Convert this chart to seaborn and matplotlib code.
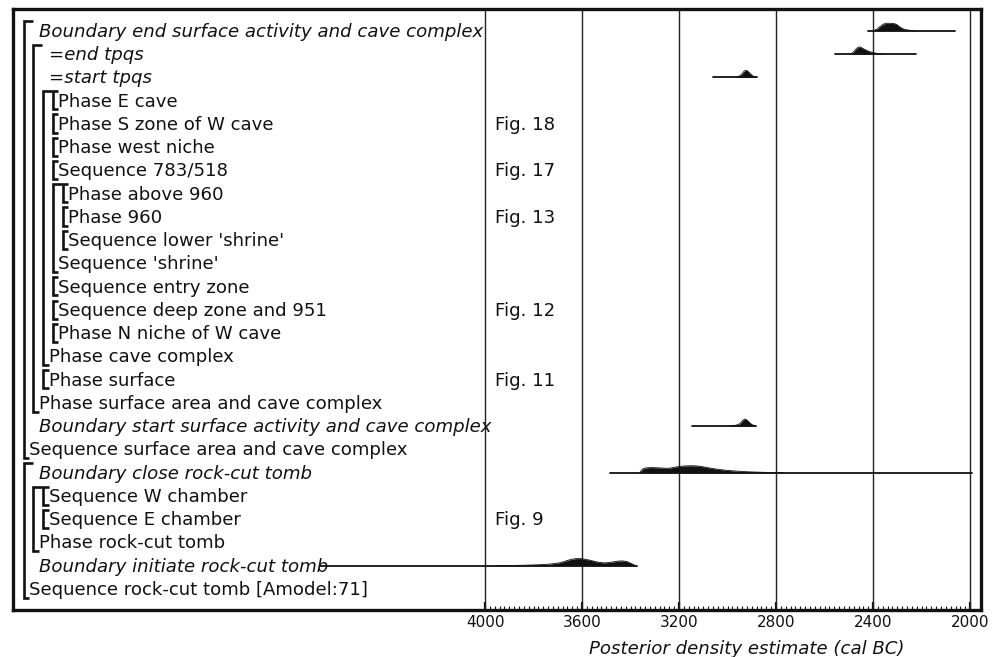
import numpy as np
import pandas as pd
import matplotlib
matplotlib.use("Agg")
import matplotlib.pyplot as plt
from matplotlib.ticker import FixedLocator
from matplotlib.transforms import blended_transform_factory
import seaborn as sns

# ---- model rows (top to bottom) ----
labels = [
    "Boundary end surface activity and cave complex",
    "=end tpqs",
    "=start tpqs",
    "Phase E cave",
    "Phase S zone of W cave",
    "Phase west niche",
    "Sequence 783/518",
    "Phase above 960",
    "Phase 960",
    "Sequence lower 'shrine'",
    "Sequence 'shrine'",
    "Sequence entry zone",
    "Sequence deep zone and 951",
    "Phase N niche of W cave",
    "Phase cave complex",
    "Phase surface",
    "Phase surface area and cave complex",
    "Boundary start surface activity and cave complex",
    "Sequence surface area and cave complex",
    "Boundary close rock-cut tomb",
    "Sequence W chamber",
    "Sequence E chamber",
    "Phase rock-cut tomb",
    "Boundary initiate rock-cut tomb",
    "Sequence rock-cut tomb [Amodel:71]",
]
italic_rows = [0, 1, 2, 17, 19, 23]
depth = [1, 2, 2, 3, 3, 3, 3, 4, 4, 4, 3, 3, 3, 3, 2, 2, 1, 1, 0, 1, 2, 2, 1, 1, 0]

# nesting brackets: (first row, last row, level)
groups = [(0, 18, 0), (1, 16, 1), (3, 14, 2), (3, 3, 3), (4, 4, 3), (5, 5, 3),
          (6, 6, 3), (7, 10, 3), (7, 7, 4), (8, 8, 4), (9, 9, 4), (11, 11, 3),
          (12, 12, 3), (13, 13, 3), (15, 15, 2), (19, 24, 0), (20, 22, 1),
          (20, 20, 2), (21, 21, 2)]

fig_ref_rows = [4, 6, 8, 12, 15, 21]
fig_ref_text = ["Fig. 18", "Fig. 17", "Fig. 13", "Fig. 12", "Fig. 11", "Fig. 9"]

# ---- prior ranges (cal BC) ----
range_rows = [0, 1, 2, 17, 19, 23]
range_start = [2422, 2558, 3061, 3148, 3485, 4680]
range_end = [2062, 2221, 2880, 2884, 1990, 3375]

# ---- posterior densities (cal BC, relative height) ----
end_surface_years = [2398, 2385, 2372, 2358, 2345, 2330, 2315, 2303, 2292, 2280, 2265, 2250, 2235, 2220]
end_surface_dens = [0, 0.2, 0.55, 0.88, 1.0, 1.0, 0.97, 0.85, 0.55, 0.3, 0.14, 0.06, 0.02, 0]

end_tpqs_years = [2490, 2480, 2468, 2458, 2450, 2440, 2428, 2415, 2400, 2385, 2370, 2355]
end_tpqs_dens = [0, 0.3, 0.75, 0.95, 0.9, 0.7, 0.5, 0.32, 0.18, 0.08, 0.03, 0]

start_tpqs_years = [2968, 2955, 2943, 2932, 2924, 2916, 2906, 2896, 2888, 2880]
start_tpqs_dens = [0, 0.08, 0.35, 0.8, 0.95, 0.8, 0.45, 0.18, 0.05, 0]

start_surface_years = [2992, 2978, 2962, 2948, 2938, 2930, 2921, 2910, 2900, 2890, 2884]
start_surface_dens = [0, 0.06, 0.15, 0.35, 0.75, 0.95, 0.85, 0.5, 0.22, 0.08, 0]

close_tomb_years = [3362, 3352, 3340, 3320, 3295, 3270, 3250, 3235, 3210, 3180, 3150, 3125,
                    3100, 3070, 3040, 3000, 2960, 2920, 2870, 2820, 2770]
close_tomb_dens = [0, 0.45, 0.62, 0.68, 0.66, 0.62, 0.58, 0.62, 0.78, 0.9, 0.93, 0.9,
                   0.78, 0.6, 0.45, 0.3, 0.2, 0.12, 0.06, 0.02, 0]

initiate_tomb_years = [3960, 3900, 3840, 3780, 3730, 3690, 3665, 3645, 3625, 3605, 3585, 3565,
                       3545, 3525, 3508, 3490, 3470, 3450, 3432, 3415, 3400, 3388, 3378]
initiate_tomb_dens = [0, 0.02, 0.06, 0.12, 0.22, 0.4, 0.65, 0.85, 0.95, 0.95, 0.85, 0.72,
                      0.55, 0.42, 0.38, 0.42, 0.52, 0.62, 0.64, 0.55, 0.35, 0.15, 0]

densities = [
    (0, end_surface_years, end_surface_dens),
    (1, end_tpqs_years, end_tpqs_dens),
    (2, start_tpqs_years, start_tpqs_dens),
    (17, start_surface_years, start_surface_dens),
    (19, close_tomb_years, close_tomb_dens),
    (23, initiate_tomb_years, initiate_tomb_dens),
]

major_ticks = [4000, 3600, 3200, 2800, 2400, 2000]
minor_ticks = [y for y in range(2020, 4000, 20) if y % 400 != 0]

# ---- figure ----
sns.set_theme(style="white")
plt.rcParams["font.family"] = ["DejaVu Sans"]
INK = "#111111"

W, H = 1000, 657
fig = plt.figure(figsize=(W / 100, H / 100), dpi=100)
AX_L, AX_R, AX_T, AX_B = 13.3, 980.5, 9.0, 610.0
ax = fig.add_axes([AX_L / W, (H - AX_B) / H, (AX_R - AX_L) / W, (AX_B - AX_T) / H])
ax.set_facecolor("white")

# label panel uses pixel offsets from the left frame in x, row index in y
trans = blended_transform_factory(ax.transAxes, ax.transData)
def px(x):
    return (x - AX_L) / (AX_R - AX_L)

# prior ranges
rng = pd.DataFrame({
    "year": [v for pair in zip(range_start, range_end) for v in pair],
    "row": [r for r in range_rows for _ in range(2)],
    "item": [labels[r] for r in range_rows for _ in range(2)],
})
sns.lineplot(data=rng, x="year", y="row", units="item", estimator=None,
             color=INK, linewidth=1.3, legend=False, ax=ax, zorder=3)

# posterior densities
ROW_H = 0.32
for row, yrs, dens in densities:
    top = row - np.asarray(dens) * ROW_H
    ax.fill_between(yrs, row, top, color=INK, linewidth=0, zorder=4)
    sns.lineplot(x=yrs, y=top, sort=False, estimator=None, color=INK,
                 linewidth=0.6, ax=ax, zorder=4)

# grid at the major years
for v in major_ticks:
    ax.axvline(v, color="#222222", linewidth=1.0, zorder=2)

ax.set_xlim(5945, 1957)
ax.set_ylim(24.905, -0.933)

# row labels
for i, lab in enumerate(labels):
    ax.text(px(29 + 9.8 * depth[i]), i + 0.26, lab, transform=trans,
            fontsize=13.1, color=INK, va="baseline", ha="left",
            style="italic" if i in italic_rows else "normal", zorder=5)

for r, t in zip(fig_ref_rows, fig_ref_text):
    ax.text(px(495), r + 0.26, t, transform=trans, fontsize=13.1, color=INK,
            va="baseline", ha="left", zorder=5)

# nesting brackets
for s, e, lvl in groups:
    vx = 23.5 + 9.8 * lvl
    top_len = 5.5 if s == e else 9.0
    bot_len = 5.5
    xs = [px(vx + top_len), px(vx), px(vx), px(vx + bot_len)]
    ys = [s - 0.40, s - 0.40, e + 0.38, e + 0.38]
    ax.plot(xs, ys, transform=trans, color=INK, linewidth=1.9,
            solid_joinstyle="miter", solid_capstyle="butt", zorder=5)

# axis
ax.set_xticks(major_ticks)
ax.set_xticklabels([str(v) for v in major_ticks])
ax.xaxis.set_minor_locator(FixedLocator(minor_ticks))
ax.tick_params(axis="x", which="major", direction="in", length=6, width=1.6,
               color=INK, pad=3.5, labelsize=11, labelcolor=INK, bottom=True, top=False)
ax.tick_params(axis="x", which="minor", direction="in", length=3, width=0.8,
               color=INK, bottom=True, top=False)
ax.tick_params(axis="y", left=False, labelleft=False)
ax.set_ylabel("")
ax.set_xlabel("Posterior density estimate (cal BC)", fontsize=13.1,
              style="italic", color=INK)
ax.xaxis.set_label_coords(px(746.5), -(639.5 - AX_B) / (AX_B - AX_T))

for sp in ax.spines.values():
    sp.set_linewidth(2.4)
    sp.set_color(INK)
    sp.set_visible(True)

fig.savefig("out.png", dpi=100, facecolor="white")
